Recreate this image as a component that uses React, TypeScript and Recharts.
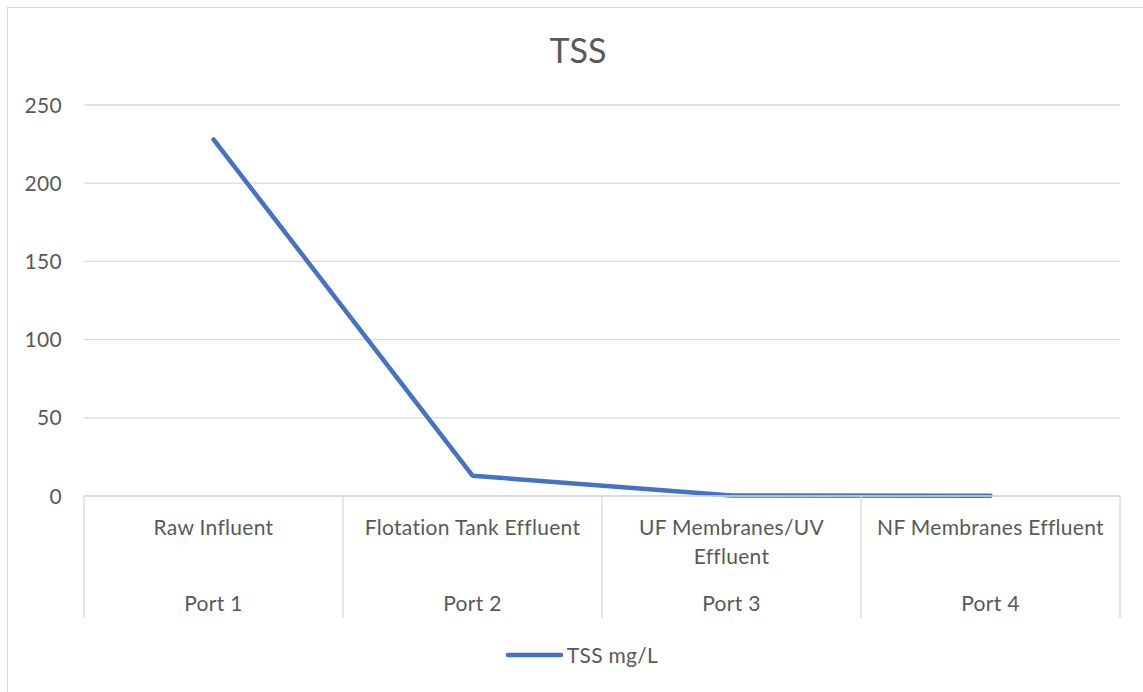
import React from "react";
import { LineChart, Line, XAxis, YAxis, CartesianGrid, Legend } from "recharts";

const categoryLines: string[][] = [
  ["Raw Influent"],
  ["Flotation Tank Effluent"],
  ["UF Membranes/UV", "Effluent"],
  ["NF Membranes Effluent"],
];
const ports = ["Port 1", "Port 2", "Port 3", "Port 4"];
const tssValues = [228, 13, 0.3, 0.2];
const yTicks = [0, 50, 100, 150, 200, 250];
const seriesName = "TSS mg/L";
const title = "TSS";

const data = ports.map((p, i) => ({ name: p, tss: tssValues[i] }));

const W = 1143;
const H = 692;
const M = { top: 105, right: 23, bottom: 74, left: 0 };
const Y_W = 84;
const X_H = 122;
const FONT = "Lato, 'Open Sans', sans-serif";
const FS = 21;
const LS = 0.3;
const TEXT = "#595959";
const GRID = "#d9d9d9";
const BLUE = "#4472C4";
const BAND = (W - M.left - Y_W - M.right) / ports.length;

const YTick = (props: any) => {
  const { y, payload } = props;
  return (
    <text x={62} y={y} dy="0.36em" textAnchor="end" fill={TEXT} fontSize={FS} fontFamily={FONT} letterSpacing={LS}>
      {payload.value}
    </text>
  );
};

const XTick = (props: any) => {
  const { x, y, payload, index } = props;
  const lines = categoryLines[index] || [];
  const last = index === ports.length - 1;
  return (
    <g>
      <line x1={x - BAND / 2} x2={x - BAND / 2} y1={y} y2={y + X_H} stroke={GRID} strokeWidth={1.3} />
      {last && (
        <line x1={x + BAND / 2} x2={x + BAND / 2} y1={y} y2={y + X_H} stroke={GRID} strokeWidth={1.3} />
      )}
      {lines.map((l, i) => (
        <text key={i} x={x} y={y + 39 + i * 29} textAnchor="middle" fill={TEXT} fontSize={FS} fontFamily={FONT} letterSpacing={LS}>
          {l}
        </text>
      ))}
      <text x={x} y={y + 115} textAnchor="middle" fill={TEXT} fontSize={FS} fontFamily={FONT} letterSpacing={LS}>
        {payload.value}
      </text>
    </g>
  );
};

const LegendContent = () => (
  <div
    style={{
      display: "flex",
      justifyContent: "center",
      alignItems: "center",
      paddingLeft: 20,
      fontFamily: FONT,
      fontSize: FS,
      letterSpacing: LS,
      color: TEXT,
    }}
  >
    <svg width={62} height={10} style={{ display: "block" }}>
      <line x1={3} x2={56} y1={5} y2={5} stroke={BLUE} strokeWidth={4.5} strokeLinecap="round" />
    </svg>
    <span style={{ lineHeight: "24px" }}>{seriesName}</span>
  </div>
);

export default function App() {
  return (
    <div style={{ position: "absolute", left: 0, top: 0, width: W, height: H, overflow: "hidden", background: "#fff" }}>
      <div
        style={{
          position: "absolute",
          left: 7,
          top: 7,
          width: W + 10,
          height: H + 10,
          borderLeft: `1px solid ${GRID}`,
          borderTop: `1px solid ${GRID}`,
        }}
      />
      <div style={{ position: "absolute", left: 0, top: 0 }}>
        <LineChart width={W} height={H} data={data} margin={M}>
          <CartesianGrid vertical={false} stroke={GRID} strokeWidth={1.3} />
          <XAxis
            dataKey="name"
            scale="band"
            interval={0}
            height={X_H}
            tickSize={0}
            tickMargin={0}
            tickLine={false}
            axisLine={{ stroke: GRID, strokeWidth: 1.3 }}
            tick={<XTick />}
          />
          <YAxis
            width={Y_W}
            domain={[0, 250]}
            ticks={yTicks}
            axisLine={false}
            tickLine={false}
            tick={<YTick />}
          />
          <Legend
            layout="horizontal"
            verticalAlign="middle"
            align="center"
            wrapperStyle={{ top: 643, left: 0, width: W }}
            content={<LegendContent />}
          />
          <Line
            dataKey="tss"
            name={seriesName}
            stroke={BLUE}
            strokeWidth={4.5}
            strokeLinecap="round"
            strokeLinejoin="round"
            dot={false}
            activeDot={false}
            isAnimationActive={false}
          />
        </LineChart>
      </div>
      <svg style={{ position: "absolute", left: 0, top: 0, pointerEvents: "none" }} width={W} height={H}>
        <text x={578} y={63} textAnchor="middle" fill={TEXT} fontSize={34} fontFamily={FONT}>
          {title}
        </text>
      </svg>
    </div>
  );
}
